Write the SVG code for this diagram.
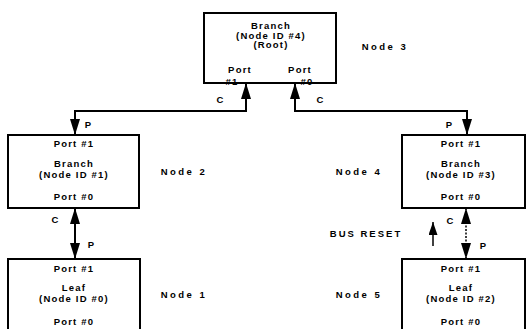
<svg xmlns="http://www.w3.org/2000/svg" width="527" height="329" viewBox="0 0 527 329">
<style>
text{font-family:"Liberation Sans",Arial,sans-serif;font-weight:bold;fill:#000;text-anchor:middle}
.t{font-size:9.5px;letter-spacing:1.2px}
.lbl{font-size:9.5px;letter-spacing:2.5px}
.cp{font-size:9.5px}
.box{fill:#fff;stroke:#000;stroke-width:2}
.con{fill:none;stroke:#000;stroke-width:2}
.dot{fill:none;stroke:#000;stroke-width:1.5;stroke-dasharray:2 1.5}
</style>
<defs>
<marker id="ah" markerUnits="userSpaceOnUse" viewBox="0 0 16 10" refX="16" refY="5" markerWidth="16" markerHeight="10" orient="auto-start-reverse">
<path d="M0,0 L16,5 L0,10 z" fill="#000"/>
</marker>
<marker id="ahs" markerUnits="userSpaceOnUse" viewBox="0 0 13 9" refX="13" refY="4.5" markerWidth="13" markerHeight="9" orient="auto">
<path d="M0,0 L13,4.5 L0,9 z" fill="#000"/>
</marker>
</defs>
<g id="connectors">
<path class="con" d="M246,83 V111 H75 V135" marker-start="url(#ah)" marker-end="url(#ah)"/>
<path class="con" d="M295,83 V111 H467 V135" marker-start="url(#ah)" marker-end="url(#ah)"/>
<path class="con" d="M75,208 V259" marker-start="url(#ah)" marker-end="url(#ah)"/>
<path class="dot" d="M466,208 V259" marker-start="url(#ah)" marker-end="url(#ah)"/>
<path class="con" style="stroke-width:1.5" d="M433,246 V222" marker-end="url(#ahs)"/>
<text class="cp" x="220" y="103">C</text>
<text class="cp" x="320" y="103">C</text>
<text class="cp" x="88" y="128">P</text>
<text class="cp" x="449" y="128">P</text>
<text class="cp" x="55" y="223">C</text>
<text class="cp" x="91" y="248">P</text>
<text class="cp" x="450" y="224">C</text>
<text class="cp" x="483" y="249">P</text>
<text class="lbl" x="366" y="237" style="letter-spacing:2px">BUS RESET</text>
</g>
<g id="node3">
<rect class="box" x="204" y="13" width="132" height="70"/>
<text class="t" x="271" y="29">Branch</text>
<text class="t" x="271" y="38.5">(Node ID #4)</text>
<text class="t" x="271" y="48">(Root)</text>
<text class="t" x="240" y="73">Port</text>
<text class="t" x="232" y="85">#1</text>
<text class="t" x="300" y="73">Port</text>
<text class="t" x="307" y="85">#0</text>
<text class="lbl" x="385" y="50">Node 3</text>
</g>
<g id="node2">
<rect class="box" x="8" y="135" width="131" height="73"/>
<text class="t" x="74" y="147">Port #1</text>
<text class="t" x="74" y="167">Branch</text>
<text class="t" x="74" y="177.5">(Node ID #1)</text>
<text class="t" x="74" y="200">Port #0</text>
<text class="lbl" x="184" y="175">Node 2</text>
</g>
<g id="node4">
<rect class="box" x="402" y="135" width="123" height="73"/>
<text class="t" x="461" y="147">Port #1</text>
<text class="t" x="461" y="167">Branch</text>
<text class="t" x="461" y="177.5">(Node ID #3)</text>
<text class="t" x="461" y="200">Port #0</text>
<text class="lbl" x="359" y="175">Node 4</text>
</g>
<g id="node1">
<rect class="box" x="8" y="259" width="132" height="80"/>
<text class="t" x="74" y="272">Port #1</text>
<text class="t" x="74" y="291">Leaf</text>
<text class="t" x="74" y="301.5">(Node ID #0)</text>
<text class="t" x="74" y="325">Port #0</text>
<text class="lbl" x="184" y="298">Node 1</text>
</g>
<g id="node5">
<rect class="box" x="402" y="259" width="123" height="80"/>
<text class="t" x="461" y="272">Port #1</text>
<text class="t" x="461" y="291">Leaf</text>
<text class="t" x="461" y="301.5">(Node ID #2)</text>
<text class="t" x="461" y="325">Port #0</text>
<text class="lbl" x="359" y="298">Node 5</text>
</g>
</svg>
